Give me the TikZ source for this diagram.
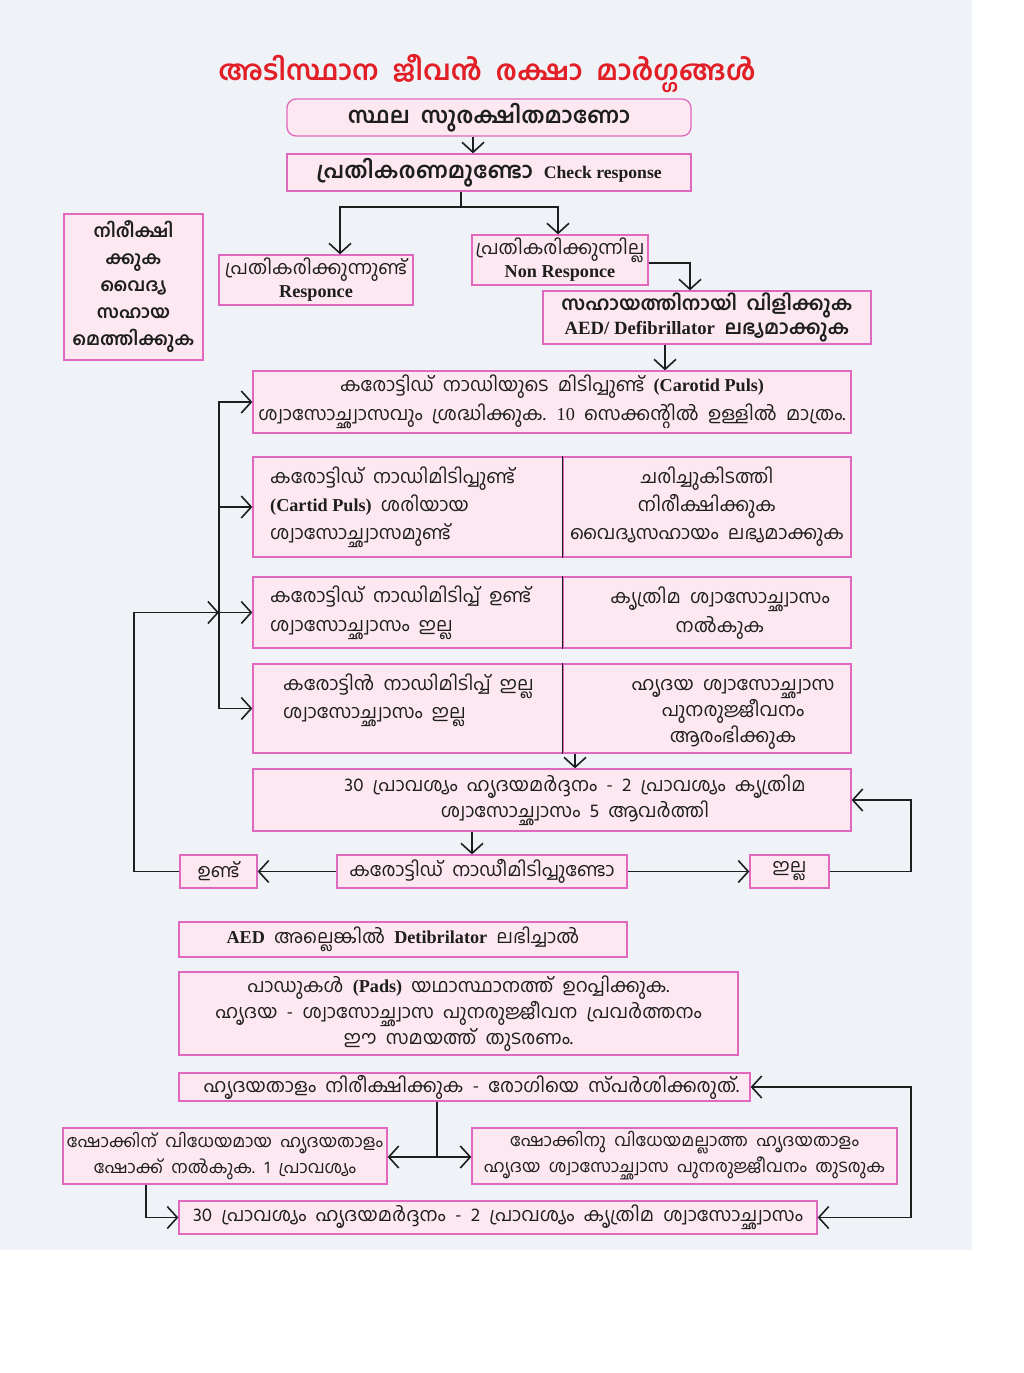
\documentclass[tikz,border=0pt]{standalone}
\usepackage{fontspec}
\setmainfont{Hind Kochi}[Script=Malayalam, Scale=1.11, WordSpace=2]
\newfontfamily\latb{Liberation Serif}[Ligatures=TeX, Scale=1.07]
\usetikzlibrary{arrows.meta}
\definecolor{bgc}{RGB}{239,243,247}
\definecolor{boxfill}{RGB}{253,232,242}
\definecolor{boxdraw}{RGB}{224,104,190}
\definecolor{titlered}{RGB}{226,30,38}
\definecolor{ink}{RGB}{30,30,30}
\newcommand{\en}[1]{{\latb\bfseries #1}}
\begin{document}
\begin{tikzpicture}[x=1pt,y=-1pt,
  box/.style={draw=boxdraw, fill=boxfill, line width=1.3pt, inner sep=0pt, align=center, text=ink,
    font=\fontsize{17}{26}\selectfont},
  txt/.style={inner sep=0pt, text=ink, align=center, font=\fontsize{17}{28}\selectfont},
  ltxt/.style={txt, align=left, anchor=west},
  arr/.style={draw=ink, line width=1.6pt, -{Straight Barb[length=10pt,width=22pt,line width=1.6pt]}},
  arrb/.style={draw=ink, line width=1.6pt, {Straight Barb[length=10pt,width=22pt,line width=1.6pt]}-{Straight Barb[length=10pt,width=22pt,line width=1.6pt]}},
  ln/.style={draw=ink, line width=1.6pt}]
\useasboundingbox (0,0) rectangle (1024,1373);
\fill[bgc] (0,0) rectangle (972,1250);
\coordinate (busx) at (219,0);
\coordinate (lx) at (134,0);
\coordinate (rx) at (911,0);

\node[text=titlered, font=\fontsize{25}{32}\selectfont\bfseries] (title) at (487,74) {അടിസ്ഥാന ജീവൻ രക്ഷാ മാർഗ്ഗങ്ങൾ};

\node[box, rounded corners=9pt, minimum width=404pt, minimum height=37pt, font=\fontsize{20}{24}\selectfont\bfseries] (b1) at (489,117.5) {സ്ഥല സുരക്ഷിതമാണോ};
\node[box, minimum width=404pt, minimum height=37pt, font=\fontsize{20}{24}\selectfont\bfseries] (b2) at (489,172.5) {പ്രതികരണമുണ്ടോ {\fontsize{16.5}{24}\selectfont\en{Check response}}};

\node[box, minimum width=139pt, minimum height=146pt, font=\fontsize{16.2}{27}\selectfont\bfseries] (obs) at (133.5,287) {നിരീക്ഷി\\ക്കുക\\വൈദ്യ\\സഹായ\\മെത്തിക്കുക};

\node[box, minimum width=194pt, minimum height=50pt, font=\fontsize{17}{23}\selectfont] (resp) at (316,280) {പ്രതികരിക്കുന്നുണ്ട്\\\en{Responce}};
\node[box, minimum width=176pt, minimum height=50pt, font=\fontsize{17}{23}\selectfont] (nresp) at (560,260) {പ്രതികരിക്കുന്നില്ല\\\en{Non Responce}};

\node[box, minimum width=328pt, minimum height=53pt, font=\fontsize{17.5}{24}\selectfont\bfseries] (help) at (707,317.5) {സഹായത്തിനായി വിളിക്കുക\\\en{AED/ Defibrillator} ലഭ്യമാക്കുക};

\node[box, minimum width=598pt, minimum height=62pt, font=\fontsize{17}{29}\selectfont] (chk) at (552,402) {കരോട്ടിഡ് നാഡിയുടെ മിടിപ്പുണ്ട് \en{(Carotid Puls)}\\ശ്വാസോച്ഛ്വാസവും ശ്രദ്ധിക്കുക. {\latb 10} സെക്കന്റിൽ ഉള്ളിൽ മാത്രം.};

% two-column rows
\node[box, minimum width=310pt, minimum height=100pt] (rAl) at (408,507) {};
\node[box, minimum width=288pt, minimum height=100pt] (rAr) at (707,507) {};
\node[box, minimum width=310pt, minimum height=71pt] (rBl) at (408,612.5) {};
\node[box, minimum width=288pt, minimum height=71pt] (rBr) at (707,612.5) {};
\node[box, minimum width=310pt, minimum height=89pt] (rCl) at (408,708.5) {};
\node[box, minimum width=288pt, minimum height=89pt] (rCr) at (707,708.5) {};
\draw[ln] (rAr.north west) -- (rAr.south west);
\draw[ln] (rBr.north west) -- (rBr.south west);
\draw[ln] (rCr.north west) -- (rCr.south west);

\node[ltxt] (rAlt) at (270,507) {കരോട്ടിഡ് നാഡിമിടിപ്പുണ്ട്\\\en{(Cartid Puls)} ശരിയായ\\ശ്വാസോച്ഛ്വാസമുണ്ട്};
\node[txt] (rArt) at (707,507) {ചരിച്ചുകിടത്തി\\നിരീക്ഷിക്കുക\\വൈദ്യസഹായം ലഭ്യമാക്കുക};
\node[ltxt, font=\fontsize{17}{29}\selectfont] (rBlt) at (270,613) {കരോട്ടിഡ് നാഡിമിടിപ്പ് ഉണ്ട്\\ശ്വാസോച്ഛ്വാസം ഇല്ല};
\node[txt, font=\fontsize{17}{29}\selectfont] (rBrt) at (720,613) {കൃത്രിമ ശ്വാസോച്ഛ്വാസം\\നൽകുക};
\node[ltxt] (rClt) at (283,700) {കരോട്ടിൻ നാഡിമിടിപ്പ് ഇല്ല\\ശ്വാസോച്ഛ്വാസം ഇല്ല};
\node[txt, font=\fontsize{17}{26}\selectfont] (rCrt) at (733,714) {ഹൃദയ ശ്വാസോച്ഛ്വാസ\\പുനരുജ്ജീവനം\\ആരംഭിക്കുക};

\node[box, minimum width=598pt, minimum height=62pt] (cpr) at (552,800) {};
\node[txt, font=\fontsize{17}{26}\selectfont] (cprt) at (575,800) {30 പ്രാവശ്യം ഹൃദയമർദ്ദനം - 2 പ്രാവശ്യം കൃത്രിമ\\ശ്വാസോച്ഛ്വാസം 5 ആവർത്തി};

\node[box, minimum width=290pt, minimum height=33pt] (ck) at (482,871.5) {കരോട്ടിഡ് നാഡീമിടിപ്പുണ്ടോ};
\node[box, minimum width=77pt, minimum height=33pt] (yes) at (218.5,871.5) {ഉണ്ട്};
\node[box, minimum width=79pt, minimum height=33pt] (no) at (789.5,871.5) {ഇല്ല};

\node[box, minimum width=448pt, minimum height=35pt] (aed) at (403,939.5) {\en{AED} അല്ലെങ്കിൽ \en{Detibrilator} ലഭിച്ചാൽ};
\node[box, minimum width=559pt, minimum height=83pt] (pads) at (458.5,1013.5) {പാഡുകൾ \en{(Pads)} യഥാസ്ഥാനത്ത് ഉറപ്പിക്കുക.\\ഹൃദയ - ശ്വാസോച്ഛ്വാസ പുനരുജ്ജീവന പ്രവർത്തനം\\ഈ സമയത്ത് തുടരണം.};
\node[box, minimum width=571pt, minimum height=28pt] (rhy) at (464.5,1087) {\hspace*{14pt}ഹൃദയതാളം നിരീക്ഷിക്കുക - രോഗിയെ സ്പർശിക്കരുത്.};
\node[box, minimum width=324pt, minimum height=56pt, font=\fontsize{15.5}{26}\selectfont] (shk) at (225,1156) {ഷോക്കിന് വിധേയമായ ഹൃദയതാളം\\ഷോക്ക് നൽകുക. 1 പ്രാവശ്യം};
\node[box, minimum width=425pt, minimum height=56pt, font=\fontsize{15.5}{26}\selectfont] (nshk) at (684.5,1156) {ഷോക്കിനു വിധേയമല്ലാത്ത ഹൃദയതാളം\\ഹൃദയ ശ്വാസോച്ഛ്വാസ പുനരുജ്ജീവനം തുടരുക};
\node[box, minimum width=638pt, minimum height=33pt] (cpr2) at (498,1217.5) {30 പ്രാവശ്യം ഹൃദയമർദ്ദനം - 2 പ്രാവശ്യം കൃത്രിമ ശ്വാസോച്ഛ്വാസം};

% connectors
\draw[arr] ([xshift=-16pt]b1.south) -- ([xshift=-16pt]b2.north);
\coordinate (sp) at (461,207);
\draw[ln] (b2.south -| sp) -- (sp);
\draw[arr] (sp) -| ([xshift=24pt]resp.north);
\draw[arr] (sp) -| ([xshift=-2pt]nresp.north);
\draw[arr] ([yshift=-3pt]nresp.east) -| ([xshift=-17pt]help.north);
\draw[arr] ([xshift=-42pt]help.south) -- ([xshift=-42pt]help.south |- chk.north);

\draw[ln] ([yshift=0.8pt]chk.west -| busx) -- ([yshift=-0.8pt]rCl.west -| busx);
\draw[arr] (chk.west -| busx) -- (chk.west);
\draw[arr] (rAl.west -| busx) -- (rAl.west);
\draw[arr] (rBl.west -| busx) -- (rBl.west);
\draw[arr] (rCl.west -| busx) -- (rCl.west);

\draw[arr] (rCr.south -| cprt) -- (cpr.north -| cprt);
\draw[arr] ([xshift=-10pt]cpr.south -| ck.north) -- ([xshift=-10pt]ck.north);
\draw[arr] (ck.west) -- (yes.east);
\draw[arr] (ck.east) -- (no.west);
\draw[arr] (no.east) -- (no.east -| rx) -- (cpr.east -| rx) -- (cpr.east);
\draw[arr] (yes.west) -- (yes.west -| lx) -- (rBl.west -| lx) -- (rBl.west -| busx);

\coordinate (sp2) at (437,1157);
\draw[ln] (rhy.south -| sp2) -- (sp2);
\draw[arr] (sp2) -- (sp2 -| shk.east);
\draw[arr] (sp2) -- (sp2 -| nshk.west);
\draw[arr] ([xshift=-79pt]shk.south) |- (cpr2.west);
\draw[arrb] (cpr2.east) -- (cpr2.east -| rx) -- (rhy.east -| rx) -- (rhy.east);
\end{tikzpicture}
\end{document}
